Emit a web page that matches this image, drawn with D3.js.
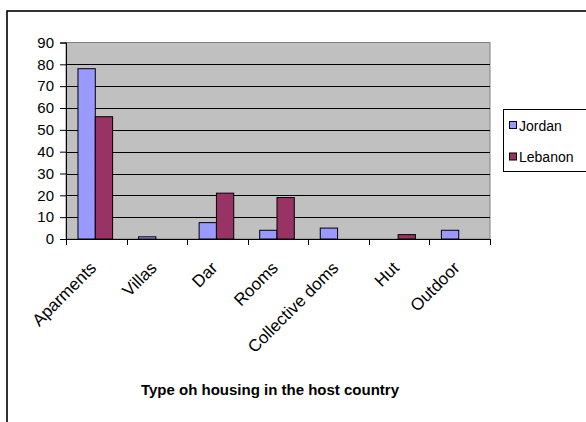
<!DOCTYPE html>
<html>
<head>
<meta charset="utf-8">
<script src="https://cdn.jsdelivr.net/npm/d3@7"></script>
<style>
  html, body { margin: 0; padding: 0; background: #fff; }
  svg { display: block; font-family: "Liberation Sans", Arial, sans-serif; }
</style>
</head>
<body>
<svg id="chart" width="586" height="422"></svg>
<script>
// Housing types and share per country
const categories = ["Aparments", "Villas", "Dar", "Rooms", "Collective doms", "Hut", "Outdoor"];
const seriesNames = ["Jordan", "Lebanon"];
const jordan  = [78, 1, 7.5, 4, 5, 0, 4];
const lebanon = [56, 0, 21, 19, 0, 2, 0];
const yTicks = [0, 10, 20, 30, 40, 50, 60, 70, 80, 90];
const colors = ["#9999FF", "#993366"];
const title = "Type oh housing in the host country";

const rows = categories.map((c, i) => ({ cat: c, values: [jordan[i], lebanon[i]] }));

const svg = d3.select("#chart");
const plot = { left: 66, right: 490, top: 42.5, bottom: 239 };

// Outer chart frame
svg.append("rect")
  .attr("x", 7).attr("y", 11)
  .attr("width", 640).attr("height", 440)
  .attr("fill", "#fff").attr("stroke", "#000").attr("stroke-width", 1.6);

const x0 = d3.scaleBand().domain(categories).range([plot.left, plot.right]).padding(0);
const bw = x0.bandwidth();
const barW = bw / 3.5; // 150% gap width
const gapHalf = barW * 0.75;
const x1 = d3.scaleBand().domain(seriesNames)
  .range([gapHalf - 1, gapHalf - 1 + barW * 2]);
const y = d3.scaleLinear().domain([0, 90]).range([plot.bottom, plot.top]);

// Plot background
svg.append("rect")
  .attr("x", plot.left).attr("y", plot.top)
  .attr("width", plot.right - plot.left).attr("height", plot.bottom - plot.top)
  .attr("fill", "#C0C0C0").attr("stroke", "#808080").attr("stroke-width", 1);

// Horizontal gridlines
svg.append("g").selectAll("line")
  .data(yTicks.filter(t => t > 0 && t < 90))
  .join("line")
  .attr("x1", plot.left).attr("x2", plot.right)
  .attr("y1", d => Math.round(y(d)) + 0.5).attr("y2", d => Math.round(y(d)) + 0.5)
  .attr("stroke", "#000").attr("stroke-width", 1);

// Bars
const groups = svg.append("g").selectAll("g")
  .data(rows).join("g")
  .attr("transform", d => `translate(${x0(d.cat)},0)`);
groups.selectAll("rect")
  .data(d => d.values.map((v, i) => ({ key: seriesNames[i], v, i })).filter(e => e.v > 0))
  .join("rect")
  .attr("x", d => x1(d.key))
  .attr("y", d => y(d.v))
  .attr("width", x1.bandwidth())
  .attr("height", d => y(0) - y(d.v))
  .attr("fill", d => colors[d.i])
  .attr("stroke", "#000").attr("stroke-width", 1);

// Y axis
const yAxis = svg.append("g")
  .attr("transform", `translate(${plot.left},0)`)
  .call(d3.axisLeft(y).tickValues(yTicks).tickSize(6).tickPadding(6));
yAxis.select(".domain").attr("stroke", "#000");
yAxis.selectAll("text").attr("font-size", 15).attr("fill", "#000")
  .attr("font-family", "'Liberation Sans', Arial, sans-serif");

// X axis: ticks at category boundaries
const xAxisG = svg.append("g").attr("transform", `translate(0,${plot.bottom})`);
xAxisG.append("line")
  .attr("x1", plot.left).attr("x2", plot.right)
  .attr("y1", 0.5).attr("y2", 0.5).attr("stroke", "#000");
const boundaries = categories.map(c => x0(c)).concat([plot.right]);
xAxisG.selectAll("line.tick")
  .data(boundaries).join("line").attr("class", "tick")
  .attr("x1", d => Math.round(d) + 0.5).attr("x2", d => Math.round(d) + 0.5)
  .attr("y1", 0).attr("y2", 6).attr("stroke", "#000");

// Rotated category labels
xAxisG.selectAll("text.cat")
  .data(categories).join("text").attr("class", "cat")
  .attr("transform", d => `translate(${x0(d) + bw / 2 + 1},${30}) rotate(-45)`)
  .attr("text-anchor", "end")
  .attr("font-size", 17).attr("fill", "#000")
  .text(d => d);

// Legend
const legend = svg.append("g").attr("transform", "translate(503.5,109.5)");
legend.append("rect").attr("width", 120).attr("height", 62)
  .attr("fill", "#fff").attr("stroke", "#000");
seriesNames.forEach((s, i) => {
  const cy = 16 + i * 31.5;
  legend.append("rect")
    .attr("x", 6).attr("y", cy - 4).attr("width", 7).attr("height", 7)
    .attr("fill", colors[i]).attr("stroke", "#000");
  legend.append("text")
    .attr("x", 15.5).attr("y", cy + 5)
    .attr("font-size", 14).attr("fill", "#000").text(s);
});

// Axis title
svg.append("text")
  .attr("x", 270).attr("y", 395)
  .attr("text-anchor", "middle")
  .attr("font-size", 15).attr("font-weight", "bold").attr("fill", "#000")
  .text(title);
</script>
</body>
</html>
